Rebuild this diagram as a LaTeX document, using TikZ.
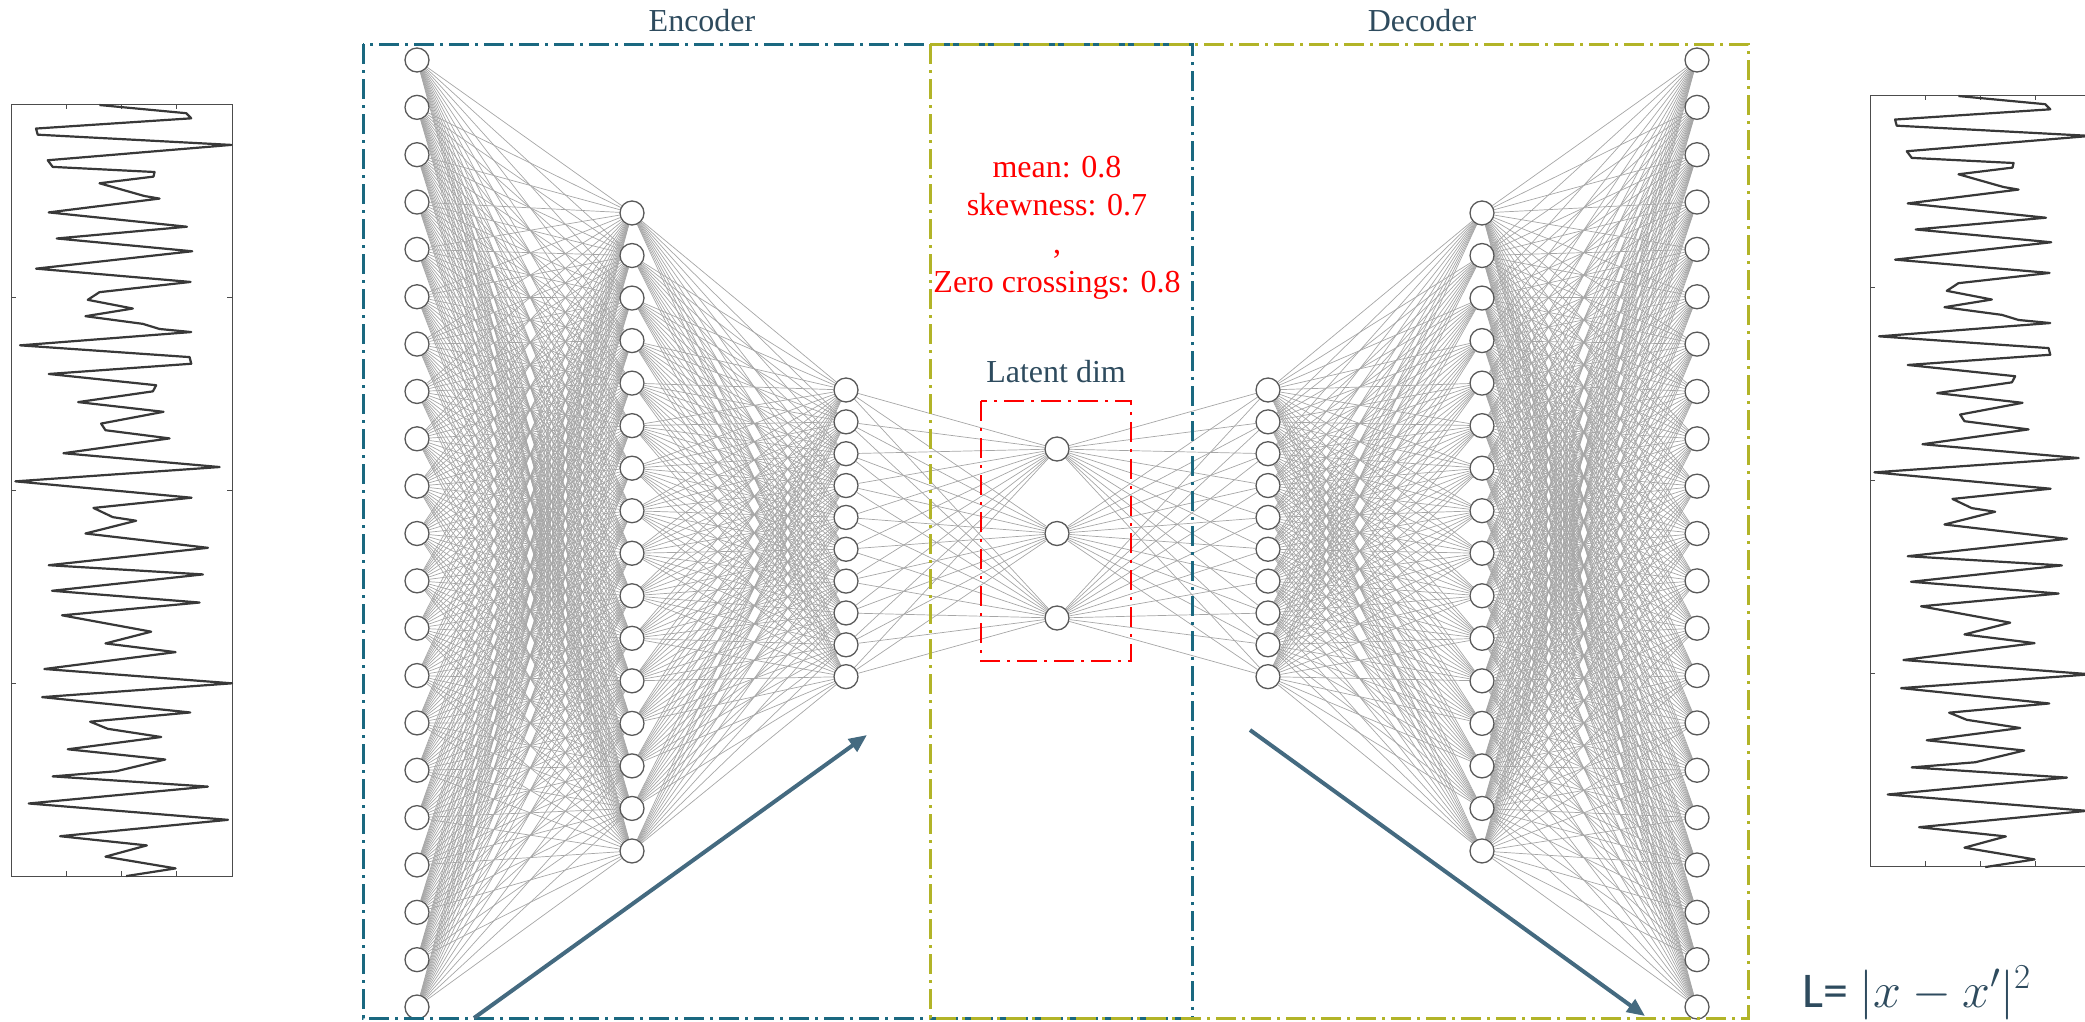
\RequirePackage{fix-cm}
\documentclass[tikz,border=0pt]{standalone}
\usepackage{fontspec}
\setmainfont{Liberation Serif}
\newfontfamily\lossfont{Carlito}
\usetikzlibrary{arrows.meta,backgrounds}

\definecolor{encblue}{RGB}{26,104,128}
\definecolor{decolive}{RGB}{178,180,40}
\definecolor{slate}{RGB}{46,75,94}
\definecolor{arrowblue}{RGB}{68,106,128}

\tikzset{
  neuron/.style={circle, draw=black!65, line width=1.3pt, fill=white,
    minimum size=24pt, inner sep=0pt},
  link/.style={draw=black!35, line width=0.7pt},
  encframe/.style={draw=encblue, line width=3pt,
    dash pattern=on 20pt off 6pt on 3pt off 6pt},
  decframe/.style={draw=decolive, line width=3pt,
    dash pattern=on 20pt off 6pt on 3pt off 6pt},
  latframe/.style={draw=red, line width=2.5pt,
    dash pattern=on 20pt off 7pt on 3pt off 7pt},
  flow/.style={draw=arrowblue, line width=4pt,
    -{Triangle[length=18pt,width=15pt]}},
  title/.style={text=slate, font=\fontsize{32}{38}\selectfont,
    inner sep=0pt, anchor=base},
  stat/.style={text=red, font=\fontsize{32}{38}\selectfont,
    inner sep=0pt, anchor=base},
  wave/.style={draw=black!78, line width=2.2pt, line join=round},
  plotframe/.style={draw=black!70, line width=0.8pt}
}

% the recorded time series, in its own plot units
\newcommand\drawsigtrace{%
  \draw[wave] (300,32) -- (560,48) -- (575,58) -- (110,78) -- (115,90)
    -- (695,110) -- (145,140) -- (160,153) -- (465,163) -- (462,172)
    -- (300,185) -- (435,210) -- (480,215) -- (148,242) -- (562,270)
    -- (172,293) -- (578,318) -- (110,352) -- (573,378) -- (300,398)
    -- (265,413) -- (400,430) -- (258,445) -- (430,460) -- (480,470)
    -- (575,476) -- (62,502) -- (570,525) -- (575,538) -- (148,558)
    -- (470,580) -- (460,592) -- (236,613) -- (492,632) -- (305,655)
    -- (318,668) -- (510,684) -- (192,713) -- (660,740) -- (48,768)
    -- (576,800) -- (282,820) -- (340,838) -- (410,845) -- (258,870)
    -- (625,898) -- (148,932) -- (610,950) -- (158,982) -- (600,1005)
    -- (188,1030) -- (455,1062) -- (318,1085) -- (528,1102) -- (135,1135)
    -- (697,1163) -- (128,1190) -- (572,1220) -- (272,1238) -- (325,1252)
    -- (485,1268) -- (205,1292) -- (497,1312) -- (350,1335) -- (160,1345)
    -- (625,1365) -- (88,1398) -- (685,1430) -- (182,1462) -- (442,1480)
    -- (318,1502) -- (528,1525) -- (380,1540);}

\begin{document}
\begin{tikzpicture}[x=1pt,y=-1pt]
\useasboundingbox (0,0) rectangle (2085,1021);

% signal plots: input (left) and reconstruction (right)
\draw[plotframe] (11,104) rectangle (232,876);
\foreach \f in {0.25,0.5,0.75} {
  \draw[plotframe] ({11+221*\f},876) -- ++(0,-5);
  \draw[plotframe] ({11+221*\f},104) -- ++(0,5);
  \draw[plotframe] (11,{104+772*\f}) -- ++(5,0);
  \draw[plotframe] (232,{104+772*\f}) -- ++(-5,0);
}
\begin{scope}[shift={(-0.68,88.66)}, xscale=0.3338, yscale=0.5113]
  \drawsigtrace
\end{scope}

\draw[plotframe] (1870,95) rectangle (2091,866);
\foreach \f in {0.25,0.5,0.75} {
  \draw[plotframe] ({1870+221*\f},866) -- ++(0,-5);
  \draw[plotframe] ({1870+221*\f},95) -- ++(0,5);
  \draw[plotframe] (1870,{95+771*\f}) -- ++(5,0);
}
\begin{scope}[shift={(1858.32,79.66)}, xscale=0.3338, yscale=0.5113]
  \drawsigtrace
\end{scope}

% neurons, layer by layer
\foreach \L/\x/\n/\top/\dy in {1/417/21/60/47.35, 2/632/16/213/42.53,
    3/846/10/390/31.85, 4/1057/3/449/84.5, 5/1268/10/390/31.85,
    6/1482/16/213/42.53, 7/1697/21/60/47.35} {
  \foreach \i in {1,...,\n} {
    \node[neuron] (n\L-\i) at (\x,{\top+(\i-1)*\dy}) {};
  }
}

% dense connections between consecutive layers
\begin{pgfonlayer}{background}
\foreach \a/\b/\na/\nb in {1/2/21/16, 2/3/16/10, 3/4/10/3,
    4/5/3/10, 5/6/10/16, 6/7/16/21} {
  \foreach \i in {1,...,\na} {
    \foreach \j in {1,...,\nb} {
      \draw[link] (n\a-\i) -- (n\b-\j);
    }
  }
}
\end{pgfonlayer}

% encoder / decoder / latent frames
\draw[encframe] (363,44) rectangle (1192,1018);
\draw[decframe] (930,44) rectangle (1748,1018);
\draw[latframe] (981,401) rectangle (1131,661);

% titles
\node[title] (enc) at (702,31) {Encoder};
\node[title] (dec) at (1422,31) {Decoder};
\node[title] (lat) at (1056,382) {Latent dim};

% latent statistics
\node[stat] (s1) at (1057,177) {mean: 0.8};
\node[stat] (s2) at (1057,215) {skewness: 0.7};
\node[stat] (s3) at (1057,253) {,};
\node[stat] (s4) at (1057,292) {Zero crossings: 0.8};

% flow arrows
\coordinate (encS) at (474,1018);
\coordinate (encE) at (867,735);
\coordinate (decS) at (1250,730);
\coordinate (decE) at (1645,1016);
\draw[flow] (encS) -- (encE);
\draw[flow] (decS) -- (decE);

% reconstruction loss
\node[text=slate, inner sep=0pt, anchor=base west] (loss) at (1802,1007)
  {\fontsize{50}{60}\selectfont\lossfont L=\ $|x-x'|^2$};
\end{tikzpicture}
\end{document}
